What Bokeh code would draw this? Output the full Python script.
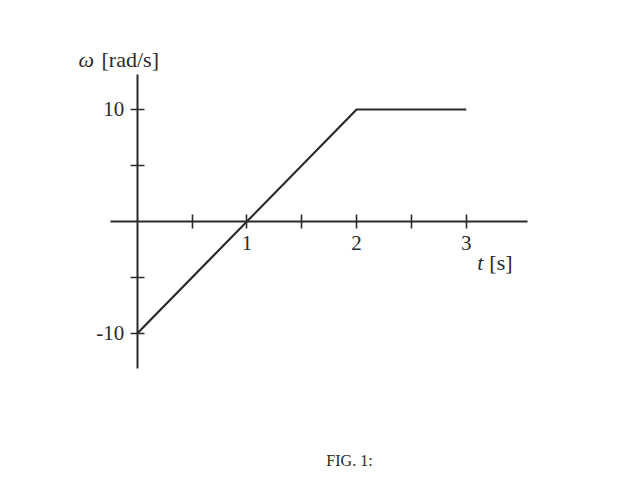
from bokeh.plotting import figure
from bokeh.models import Range1d, FixedTicker, Label
from bokeh.embed import file_html
from bokeh.resources import INLINE

# data
t_vals = [0, 2, 3]
omega_vals = [-10, 10, 10]
x_major = [1, 2, 3]
x_minor = [0.5, 1.5, 2.5]
y_major = [-10, 10]
y_minor = [-5, 5]
y_labels = {-10: "-10", 10: "10"}

INK = "#2a2a2a"
FONT = "Liberation Serif"

p = figure(width=623, height=476, output_backend="svg", toolbar_location=None,
           x_range=Range1d(-1.2461, 4.4330), y_range=Range1d(-22.768, 19.732),
           min_border=0, min_border_left=0, min_border_right=0,
           min_border_top=0, min_border_bottom=0)
p.outline_line_color = None
p.grid.visible = False
p.background_fill_color = "white"
p.border_fill_color = "white"

p.line(t_vals, omega_vals, line_color=INK, line_width=2.2)

for ax in (p.xaxis[0], p.yaxis[0]):
    ax.fixed_location = 0
    ax.axis_line_color = INK
    ax.axis_line_width = 2
    ax.major_tick_line_color = INK
    ax.minor_tick_line_color = INK
    ax.major_tick_line_width = 1.6
    ax.minor_tick_line_width = 1.6
    ax.major_tick_in = 7
    ax.major_tick_out = 7
    ax.minor_tick_in = 7
    ax.minor_tick_out = 7
    ax.major_label_text_font = FONT
    ax.major_label_text_font_size = "21px"
    ax.major_label_text_color = INK

p.xaxis[0].ticker = FixedTicker(ticks=x_major, minor_ticks=x_minor)
p.yaxis[0].ticker = FixedTicker(ticks=y_major, minor_ticks=y_minor)
p.yaxis[0].major_label_overrides = y_labels
p.xaxis[0].bounds = (-0.243, 3.56)
p.yaxis[0].bounds = (-13.1, 13.1)
p.xaxis[0].major_label_standoff = 8
p.yaxis[0].major_label_standoff = 6

def lab(x, y, text, style="normal", size="22px", align="left"):
    p.add_layout(Label(x=x, y=y, text=text, text_font=FONT, text_font_size=size,
                       text_font_style=style, text_color=INK,
                       text_baseline="middle", text_align=align))

lab(-0.535, 14.46, "ω", "italic")
lab(-0.325, 14.46, "[rad/s]")
lab(3.10, -3.63, "t", "italic")
lab(3.21, -3.63, "[s]")
lab(1.935, -21.3, "FIG. 1:", size="16px", align="center")

open("out.html", "w").write(file_html(p, INLINE))
